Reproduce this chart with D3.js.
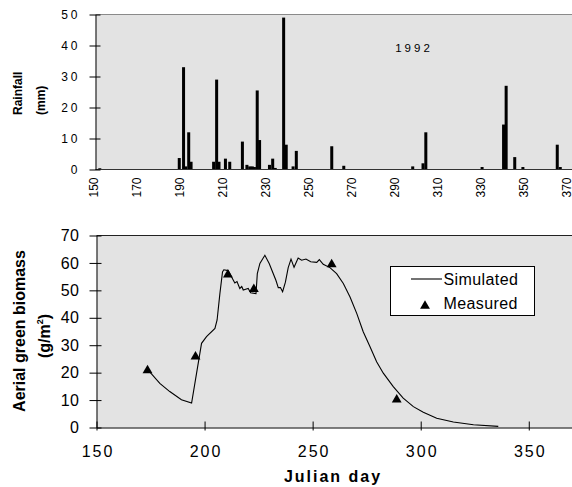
<!DOCTYPE html>
<html>
<head>
<meta charset="utf-8">
<script src="https://cdn.jsdelivr.net/npm/d3@7"></script>
<style>
  body { margin: 0; background: #fff; }
  svg { font-family: "Liberation Sans", Arial, sans-serif; }
</style>
</head>
<body>
<svg id="chart" width="572" height="487"></svg>
<script>
// rainfall, 1992 (julian day, mm)
var rainDays = [152, 189, 191, 192, 193.4, 194.5, 205, 206.4, 207.5, 210.5, 212.5, 218.4, 220.5, 221.8, 223, 224, 225.3, 226.4, 231, 232.5, 233.7, 237.6, 238.8, 242, 243.5, 260, 265.6, 297.7, 302.5, 303.8, 330, 340, 341.2, 345.2, 349, 365, 366.4];
var rainMm   = [0.4, 3.7, 33, 1, 12, 2.5, 2.5, 29, 2.5, 3.5, 2.5, 9, 1.5, 1, 1, 0.8, 25.5, 9.5, 1.5, 3.5, 0.5, 49, 8, 1, 6, 7.5, 1.2, 1, 2, 12, 0.8, 14.5, 27, 4, 0.8, 8, 0.8];

// simulated aerial green biomass (g/m2)
var simDays = [173.6, 179.3, 183.9, 189.3, 194, 198.6, 200.9, 204.8, 205.8, 207.1, 208.3, 208.9, 210.9, 212.5, 214, 215, 216.3, 217.2, 217.9, 219, 220.2, 221.3, 223.8, 224.4, 225.6, 227.9, 229.9, 233, 234.1, 235.1, 236.1, 237.4, 238.7, 240, 241.4, 243.3, 244.9, 246.9, 249.1, 251.9, 253.1, 254.9, 258, 261.1, 264.2, 267.3, 270.4, 273.4, 276.5, 279.6, 282.7, 287.3, 291.9, 296.6, 301.2, 307.4, 315.1, 324.4, 335.9];
var simVals = [21.2, 16.1, 13.1, 10.1, 8.9, 30.7, 33.1, 36.1, 39.2, 48.9, 56.7, 57.5, 57.2, 54.9, 52.7, 53.2, 50.7, 51.4, 50.1, 50.4, 50.7, 49.1, 48.8, 56.1, 59.8, 62.8, 59.8, 53.7, 51, 51, 49.5, 53, 58.3, 61.4, 58.4, 61.8, 61, 61.4, 60.4, 60.2, 61.2, 59.5, 58.3, 56.1, 52.5, 47.6, 41.6, 34.9, 29.5, 24, 19.8, 14.9, 10.7, 7.6, 5.6, 3.4, 2, 1, 0.4];

// measured
var measDays = [173.6, 195.8, 210.8, 222.8, 258.8, 288.9];
var measVals = [21.2, 26.2, 56.1, 50.8, 59.8, 10.5];

var rainTicks = [0, 10, 20, 30, 40, 50];
var rainDayTicks = [150, 170, 190, 210, 230, 250, 270, 290, 310, 330, 350, 370];
var bioTicks = [0, 10, 20, 30, 40, 50, 60, 70];
var bioDayTicks = [150, 200, 250, 300, 350];

var svg = d3.select("#chart");
var bg = "#e3e3e3";

// ---------- top: rainfall ----------
var x1 = d3.scaleLinear().domain([150, 370]).range([95.5, 568]);
var y1 = d3.scaleLinear().domain([0, 50]).range([169.5, 14.5]);

svg.append("rect")
  .attr("x", x1(150)).attr("y", y1(50))
  .attr("width", 572 - x1(150)).attr("height", y1(0) - y1(50))
  .attr("fill", bg);
svg.append("line")
  .attr("x1", x1(150)).attr("x2", 572)
  .attr("y1", y1(50)).attr("y2", y1(50))
  .attr("stroke", "#8a8a8a");

svg.append("g").selectAll("rect")
  .data(rainDays)
  .enter()
  .append("rect")
  .attr("x", function(d) { return x1(d - 0.7); })
  .attr("width", function(d) { return x1(d + 0.7) - x1(d - 0.7); })
  .attr("y", function(d, i) { return y1(rainMm[i]); })
  .attr("height", function(d, i) { return y1(0) - y1(rainMm[i]); })
  .attr("fill", "#000");

svg.append("line")
  .attr("x1", x1(150)).attr("x2", 572)
  .attr("y1", y1(0)).attr("y2", y1(0))
  .attr("stroke", "#333").attr("stroke-width", 1.2);

var ay1 = svg.append("g")
  .attr("transform", "translate(" + x1(150) + ",0)")
  .call(d3.axisLeft(y1).tickValues(rainTicks).tickSize(6).tickPadding(9).tickSizeOuter(0));
ay1.select(".domain").attr("stroke", "#000");
ay1.selectAll(".tick line").attr("x1", 5).attr("stroke", "#000");
ay1.selectAll("text")
  .attr("font-size", 12).attr("fill", "#000")
  .style("letter-spacing", "3px");

svg.append("g").selectAll("text")
  .data(rainDayTicks)
  .enter()
  .append("text")
  .attr("transform", function(d) { return "translate(" + (x1(d) + 2.5) + ",177.5) rotate(-90)"; })
  .attr("text-anchor", "end")
  .attr("font-size", 12)
  .text(function(d) { return d; });

svg.append("text")
  .attr("x", 414).attr("y", 51.5)
  .attr("text-anchor", "middle")
  .attr("font-size", 11.5)
  .style("letter-spacing", "3px")
  .text("1992");

svg.append("text")
  .attr("transform", "translate(22,115) rotate(-90)")
  .attr("font-size", 12).attr("font-weight", "bold")
  .text("Rainfall");
svg.append("text")
  .attr("transform", "translate(45,115) rotate(-90)")
  .attr("font-size", 12).attr("font-weight", "bold")
  .text("(mm)");

// ---------- bottom: biomass ----------
var x2 = d3.scaleLinear().domain([150, 370]).range([96.5, 572]);
var y2 = d3.scaleLinear().domain([0, 70]).range([427.5, 235.5]);

svg.append("rect")
  .attr("x", x2(150)).attr("y", y2(70))
  .attr("width", 572 - x2(150)).attr("height", y2(0) - y2(70))
  .attr("fill", bg);
svg.append("line")
  .attr("x1", x2(150)).attr("x2", 572)
  .attr("y1", y2(70)).attr("y2", y2(70))
  .attr("stroke", "#222");

var line = d3.line()
  .x(function(d) { return x2(d); })
  .y(function(d, i) { return y2(simVals[i]); });
svg.append("path")
  .attr("d", line(simDays))
  .attr("fill", "none")
  .attr("stroke", "#000")
  .attr("stroke-width", 1.1);

var tri = d3.symbol().type(d3.symbolTriangle).size(42);
svg.append("g").selectAll("path")
  .data(measDays)
  .enter()
  .append("path")
  .attr("d", tri)
  .attr("transform", function(d, i) { return "translate(" + x2(d) + "," + (y2(measVals[i]) + 1) + ")"; })
  .attr("fill", "#000");

var ax2 = svg.append("g")
  .attr("transform", "translate(0," + y2(0) + ")")
  .call(d3.axisBottom(x2).tickValues(bioDayTicks).tickSize(0).tickPadding(18).tickSizeOuter(0));
ax2.select(".domain").attr("stroke", "#000").attr("stroke-width", 1.2);
ax2.selectAll(".tick line").attr("y1", -6).attr("y2", 3).attr("stroke", "#000");
ax2.selectAll("text")
  .attr("font-size", 16).attr("fill", "#000")
  .attr("dx", "1px")
  .style("letter-spacing", "2px");

var ay2 = svg.append("g")
  .attr("transform", "translate(" + x2(150) + ",0)")
  .call(d3.axisLeft(y2).tickValues(bioTicks).tickSize(7).tickPadding(10).tickSizeOuter(0));
ay2.select(".domain").attr("stroke", "#000");
ay2.selectAll(".tick line").attr("x1", 5).attr("stroke", "#000");
ay2.selectAll("text")
  .attr("font-size", 16).attr("fill", "#000")
  .style("letter-spacing", "0.5px");

svg.append("text")
  .attr("x", 333).attr("y", 481.5)
  .attr("text-anchor", "middle")
  .attr("font-size", 16).attr("font-weight", "bold")
  .style("letter-spacing", "2px")
  .text("Julian day");

svg.append("text")
  .attr("transform", "translate(25,331) rotate(-90)")
  .attr("text-anchor", "middle")
  .attr("font-size", 16).attr("font-weight", "bold")
  .text("Aerial green biomass");
var unit = svg.append("text")
  .attr("transform", "translate(50,336) rotate(-90)")
  .attr("text-anchor", "middle")
  .attr("font-size", 16).attr("font-weight", "bold");
unit.append("tspan").text("(g/m");
unit.append("tspan").attr("font-size", 9).attr("dy", -7).text("2");
unit.append("tspan").attr("dy", 7).text(")");

// legend
var lg = svg.append("g");
lg.append("rect")
  .attr("x", 390.5).attr("y", 266.5).attr("width", 144).attr("height", 49)
  .attr("fill", "#fff").attr("stroke", "#000");
lg.append("line")
  .attr("x1", 411).attr("x2", 442).attr("y1", 279).attr("y2", 279)
  .attr("stroke", "#000").attr("stroke-width", 1.1);
lg.append("text")
  .attr("x", 443.5).attr("y", 285)
  .attr("font-size", 16).style("letter-spacing", "0.4px")
  .text("Simulated");
lg.append("path")
  .attr("d", tri)
  .attr("transform", "translate(425,306)")
  .attr("fill", "#000");
lg.append("text")
  .attr("x", 443.5).attr("y", 308.5)
  .attr("font-size", 16).style("letter-spacing", "0.4px")
  .text("Measured");
</script>
</body>
</html>
